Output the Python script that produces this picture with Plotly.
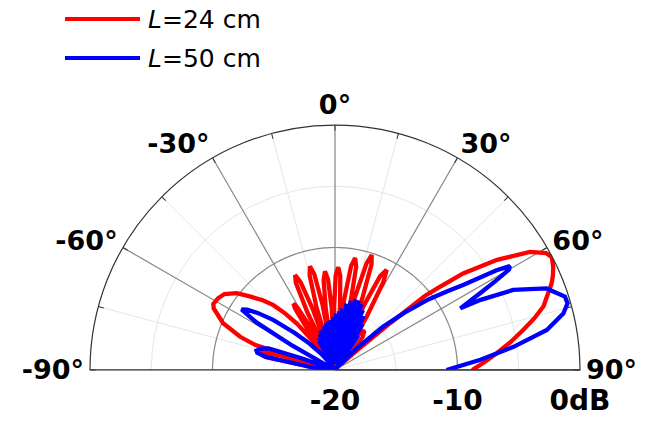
import numpy as np
import plotly.graph_objects as go

# ---------------- data ----------------
red_theta = [-90, -82.5, -81, -79.5, -78, -76.2, -75.2, -74.3, -73.6, -72.6, -70.7, -67.3, -63.1, -61.5,
             -58.5, -55.5, -52, -49.2, -46, -43.5, -41.5, -39.4, -37.5, -35.8,
             -34.5, -33, -32, -31, -29.5, -27.6,
             -25.6, -24.2, -22.8, -21.4, -20, -18.2,
             -16.4, -15, -13.6, -12.2, -10.8, -9.7,
             -8.6, -7.2, -5.8, -4.4, -3, -2,
             -0.8, 0.4, 1.8, 3.2, 4.6, 6,
             7.4, 8.8, 10.2, 11.6, 12.8, 14,
             15.3, 16.5, 17.7, 19.1, 20.9, 22.5,
             24.1, 25.7, 27.3, 28.8, 30.7, 32, 34.5, 37, 40, 43, 46, 48.5, 49.7, 50.5, 51.5,
             53, 55.8, 58.8, 61, 62.5, 64.7, 66.5, 68.2, 73, 75.5, 78, 81, 84, 87, 90]
red_r = [-20, -20, -17, -14.3, -13.9, -13.75, -15.5, -20, -17.2, -13.2, -11.8, -10.1, -8.9, -8.7,
         -8.8, -9.05, -9.8, -10.8, -11.8, -12.7, -13.8, -15.1, -17, -20,
         -16.5, -14.0, -13.6, -14.1, -16.5, -20,
         -14.8, -12.2, -11.6, -12.3, -14.8, -20,
         -14.6, -12.0, -11.3, -12.0, -14.6, -20,
         -15.0, -12.6, -11.9, -12.6, -15.0, -20,
         -14.9, -12.3, -11.6, -12.3, -14.9, -20,
         -14.2, -11.4, -10.7, -11.4, -14.2, -20,
         -13.8, -10.9, -10.15, -10.9, -13.8, -20,
         -14.2, -11.5, -10.8, -11.8, -14.9, -17, -16.2, -16, -16.5, -17.8, -19.3, -17.5, -14, -10.5, -9.2,
         -6.9, -4.0, -1.4, -0.3, -0.05, -0.3, -0.6, -0.95, -2.2, -3.2, -4.3, -5.5, -6.7, -7.8, -8.8]

blue_theta = [-90, -85.5, -83.5, -81.5, -79.2, -77.5, -76.2, -74, -72, -70.6, -69, -62,
              -60.3, -58.8, -57, -55.5, -53.5, -51, -47.5, -44, -40, -36, -33,
              -29, -27.5, -26, -24.5, -23, -21.5, -20, -18.5, -17, -15.5, -14, -12.5, -11, -9.5,
              -8, -6.5, -5, -3.5, -2, -0.5, 1, 2.5, 4, 5.5, 7, 8.5, 10, 11.5, 13, 14.5, 16, 17.5,
              19, 20.5, 22, 23.5, 25, 26.5, 28, 29.5, 31, 32.5, 34, 36,
              41, 45, 48, 50.5, 53, 55, 56.5, 58.3, 59.3, 60, 61, 62.1, 63.8, 64.3, 65.8,
              68.9, 72.3, 74, 76.1, 79.3, 82.6, 86, 90]
blue_r = [-20, -20, -18, -17.25, -14.2, -13.5, -13.4, -13.7, -14.3, -17.1, -20, -20,
          -16, -12.5, -10.9, -11.3, -12.2, -13.5, -15.5, -17, -18.3, -19.5, -20,
          -17.3, -19.5, -17.0, -19.5, -16.8, -19.5, -16.6, -19.5, -16.5, -19.5, -16.3, -19.5, -16.1, -19.5,
          -16.0, -19.5, -15.9, -19.5, -15.7, -19.5, -15.4, -19.5, -15.2, -19.5, -14.95, -19.5, -14.5, -19.5,
          -14.2, -19.5, -14.0, -19.5, -14.0, -19.5, -14.2, -19.5, -14.6, -19.5, -15.0, -19.5, -15.6, -19.5,
          -16.6, -20,
          -19.5, -17.5, -14.7, -12.6, -10.4, -8.8, -7.4, -4.5, -3.4, -3.6, -5.0, -6.6, -8.6, -6.8,
          -4.05, -1.5, -0.3, -0.25, -0.8, -2.4, -5.3, -8.1, -10.9]

series_names = ["<i>L</i>=24 cm", "<i>L</i>=50 cm"]
series_colors = ["#ff0000", "#0000ff"]

ang_ticks = [-90, -75, -60, -45, -30, -15, 0, 15, 30, 45, 60, 75, 90]
ang_labels = ["-90°", "", "-60°", "", "-30°", "", "0°", "", "30°", "", "60°", "", "90°"]
major_angles = [-90, -60, -30, 0, 30, 60, 90]
rad_ticks = [-20, -15, -10, -5, 0]
rad_labels = ["-20", "", "-10", "", "0dB"]
rad_major = -10

W, H = 645, 421
fig = go.Figure()

# darker grid (major spokes and -10 dB circle)
for a in major_angles:
    fig.add_trace(go.Scatterpolar(r=[rad_ticks[0], rad_ticks[-1]], theta=[a, a], mode="lines",
                                  line=dict(color="#333333" if abs(a) == 90 else "#8a8a8a", width=1.2),
                                  hoverinfo="skip", showlegend=False))
circ = np.arange(-90, 90.5, 1.0)
fig.add_trace(go.Scatterpolar(r=[rad_major] * len(circ), theta=circ, mode="lines",
                              line=dict(color="#8a8a8a", width=1.2), hoverinfo="skip", showlegend=False))

# data
for th, rr, nm, col in [(red_theta, red_r, series_names[0], series_colors[0]),
                        (blue_theta, blue_r, series_names[1], series_colors[1])]:
    fig.add_trace(go.Scatterpolar(r=rr, theta=th, mode="lines", name=nm,
                                  line=dict(color=col, width=4.3), showlegend=False))

angfont = dict(family="DejaVu Sans", size=27, color="black", weight="bold")
radfont = dict(family="DejaVu Sans", size=28, color="black", weight="bold")
fig.update_layout(
    width=W, height=H,
    margin=dict(l=0, r=0, t=0, b=0),
    paper_bgcolor="white",
    polar=dict(
        domain=dict(x=[90 / W, 580 / W], y=[51 / H, 296 / H]),
        sector=[0, 180],
        bgcolor="white",
        angularaxis=dict(direction="clockwise", rotation=90, thetaunit="degrees",
                         tickmode="array", tickvals=ang_ticks, ticktext=ang_labels,
                         showgrid=True, gridcolor="#e6e6e6", gridwidth=1,
                         showline=True, linecolor="#333333", linewidth=1.2,
                         ticks="inside", ticklen=5, tickcolor="#333333", tickwidth=1,
                         tickfont=angfont),
        radialaxis=dict(range=[-20, 0], angle=0, side="clockwise",
                        tickmode="array", tickvals=rad_ticks, ticktext=rad_labels,
                        showgrid=True, gridcolor="#e6e6e6", gridwidth=1,
                        showline=True, linecolor="#333333", linewidth=1.2,
                        ticks="outside", ticklen=6, tickcolor="rgba(0,0,0,0)",
                        tickangle=0, tickfont=radfont),
    ),
)

# legend (drawn as long line samples with labels, like the reference)
leg_y = [19, 58]
for i, (nm, col) in enumerate(zip(series_names, series_colors)):
    y = 1 - leg_y[i] / H
    fig.add_shape(type="line", xref="paper", yref="paper", x0=65 / W, x1=140 / W, y0=y, y1=y,
                  line=dict(color=col, width=4))
    fig.add_annotation(xref="paper", yref="paper", x=146 / W, y=y, text=nm, showarrow=False,
                       xanchor="left", yanchor="middle",
                       font=dict(family="DejaVu Sans", size=25, color="black"))

fig.write_html("out.html", config={"displayModeBar": False},
               post_script="document.body.style.margin='0';")
